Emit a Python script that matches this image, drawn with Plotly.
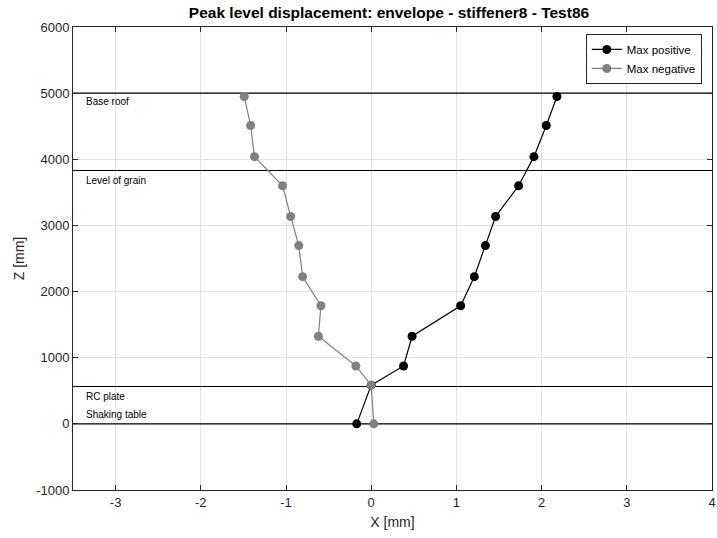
import plotly.graph_objects as go

# Data
z_levels = [4950, 4510, 4040, 3600, 3135, 2695, 2225, 1785, 1325, 875, 585, 0]
max_positive = [2.18, 2.055, 1.91, 1.73, 1.46, 1.34, 1.21, 1.05, 0.48, 0.38, 0.0, -0.17]
max_negative = [-1.49, -1.415, -1.37, -1.04, -0.945, -0.85, -0.805, -0.59, -0.62, -0.18, 0.0, 0.03]

ref_names = ["Base roof", "Level of grain", "RC plate", "Shaking table"]
ref_line_z = [5000, 3830, 565, 0]
ref_label_z = [4870, 3675, 410, 140]

x_range = [-3.5, 4]
y_range = [-1000, 6000]
x_ticks = [-3, -2, -1, 0, 1, 2, 3, 4]
y_ticks = [-1000, 0, 1000, 2000, 3000, 4000, 5000, 6000]

FONT = "Liberation Sans, Arial, Helvetica, sans-serif"
AX = "#262626"

fig = go.Figure()

# reference level lines (drawn as traces so they sit above the grid, below the data)
for zl in ref_line_z:
    fig.add_trace(go.Scatter(x=x_range, y=[zl, zl], mode="lines", showlegend=False,
                             hoverinfo="skip", line=dict(color="black", width=1.1),
                             cliponaxis=True))

fig.add_trace(go.Scatter(
    x=max_positive, y=z_levels, mode="lines+markers", name="Max positive",
    line=dict(color="black", width=1.2),
    marker=dict(color="black", size=9)))
fig.add_trace(go.Scatter(
    x=max_negative, y=z_levels, mode="lines+markers", name="Max negative",
    line=dict(color="#808080", width=1.2),
    marker=dict(color="#808080", size=9)))

for name, zl in zip(ref_names, ref_label_z):
    fig.add_annotation(x=-3.37, y=zl, xref="x", yref="y", text=name,
                       showarrow=False, xanchor="left", yanchor="middle",
                       font=dict(family=FONT, size=10, color="black"))

fig.update_layout(
    width=717, height=538,
    margin=dict(l=73, r=5, t=27, b=48, autoexpand=False),
    paper_bgcolor="white", plot_bgcolor="white",
    font=dict(family=FONT, size=13, color=AX),
    title=dict(text="<b>Peak level displacement: envelope - stiffener8 - Test86</b>",
               x=389 / 717, xanchor="center", y=1 - 13 / 538, yanchor="middle",
               font=dict(family=FONT, size=15.5, color="black")),
    showlegend=True,
    legend=dict(x=0.984, xanchor="right", y=0.985, yanchor="top",
                bgcolor="white", bordercolor=AX, borderwidth=1,
                font=dict(family=FONT, size=11.5, color="black"),
                tracegroupgap=0, itemwidth=30),
)
fig.update_xaxes(range=x_range, tickvals=x_ticks, ticktext=[str(v) for v in x_ticks],
                 showgrid=True, gridcolor="#e3e3e3", gridwidth=1, automargin=False,
                 showline=True, linecolor=AX, linewidth=1, mirror="ticks",
                 ticks="inside", ticklen=5, tickcolor=AX, zeroline=False,
                 title=dict(text="X [mm]", font=dict(size=14, color=AX), standoff=8))
fig.update_yaxes(range=y_range, tickvals=y_ticks, ticktext=[str(v) for v in y_ticks],
                 showgrid=True, gridcolor="#e3e3e3", gridwidth=1, automargin=False,
                 showline=True, linecolor=AX, linewidth=1, mirror="ticks",
                 ticks="inside", ticklen=5, tickcolor=AX, zeroline=False,
                 title=dict(text="Z [mm]", font=dict(size=14, color=AX), standoff=8))

fig.write_html("out.html", config={"displayModeBar": False},
               post_script="document.body.style.margin='0';document.body.style.overflow='hidden';")
